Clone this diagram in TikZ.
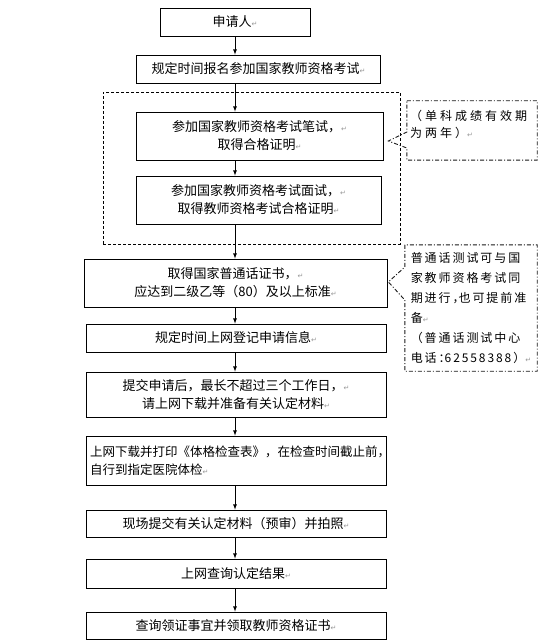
\documentclass[tikz,border=0pt]{standalone}
\definecolor{markgray}{RGB}{150,150,150}
\definecolor{notegray}{RGB}{25,25,25}
\usepackage{fontspec}
\setmainfont{Noto Sans CJK SC}
\newfontfamily\retfont{DejaVu Sans}
\newfontfamily\notefont[LetterSpace=25]{Noto Sans CJK SC}
\newfontfamily\tipfont[LetterSpace=16]{Noto Sans CJK SC}
\usepackage{tikz}
\usetikzlibrary{shapes,arrows,positioning,calc}

\newcommand{\ret}{{\retfont\fontsize{7}{7}\selectfont\textcolor{markgray}{↵}}}

\tikzset{
    stepbox/.style={rectangle, draw, line width=0.8pt, align=center, inner sep=2pt,
                    font=\fontsize{13}{18}\selectfont},
    groupbox/.style={rectangle, draw, line width=0.7pt, dash pattern=on 3pt off 2pt},
    notebox/.style={rectangle, align=left},
    noteline/.style={draw=notegray, line width=0.9pt,
                     dash pattern=on 4pt off 2pt on 1pt off 2pt},
    flowarrow/.style={-latex, line width=0.8pt}
}

\begin{document}
\begin{tikzpicture}[x=1pt, y=-1pt]
    \useasboundingbox (0,0) rectangle (551,644);
    \coordinate (axis) at (235,0);

    % exams group
    \node[groupbox, minimum width=297pt, minimum height=152pt] (exams) at (251.5,168) {};

    \node[stepbox, minimum width=150pt, minimum height=28pt] (apply) at (235,22) {申请人\ret};
    \node[stepbox, minimum width=244pt, minimum height=28pt] (signup) at (258.5,69)
        {规定时间报名参加国家教师资格考试\ret};
    \node[stepbox, minimum width=247pt, minimum height=48pt] (written) at (259.5,136)
        {参加国家教师资格考试笔试，\ret\\取得合格证明\ret};
    \node[stepbox, minimum width=245pt, minimum height=48pt] (interview) at (258.5,200)
        {参加国家教师资格考试面试，\ret\\取得教师资格考试合格证明\ret};
    \node[stepbox, minimum width=303pt, minimum height=48pt] (mandarin) at (235.5,283)
        {取得国家普通话证书，\ret\\应达到二级乙等（80）及以上标准\ret};
    \node[stepbox, minimum width=300pt, minimum height=28pt] (register) at (236,338)
        {规定时间上网登记申请信息\ret};
    \node[stepbox, minimum width=300pt, minimum height=45pt] (submit) at (236,394.5)
        {提交申请后，最长不超过三个工作日，\ret\\请上网下载并准备有关认定材料\ret};
    \node[stepbox, minimum width=300pt, minimum height=49pt, align=left, text width=292pt,
          inner xsep=4pt, font=\fontsize{12.5}{18}\selectfont] (medical) at (236,460.5)
        {上网下载并打印《体格检查表》，在检查时间截止前，\\自行到指定医院体检\ret};
    \node[stepbox, minimum width=300pt, minimum height=27pt] (onsite) at (236,523.5)
        {现场提交有关认定材料（预审）并拍照\ret};
    \node[stepbox, minimum width=300pt, minimum height=29pt] (result) at (236,573.5)
        {上网查询认定结果\ret};
    \node[stepbox, minimum width=300pt, minimum height=27pt] (collect) at (236,625.5)
        {查询领证事宜并领取教师资格证书\ret};

    \foreach \a/\b in {apply/signup, signup/written, written/interview, interview/mandarin,
                       mandarin/register, register/submit, submit/medical, medical/onsite,
                       onsite/result, result/collect}
        \draw[flowarrow] (axis |- \a.south) -- (axis |- \b.north);

    % notes
    \node[notebox, font=\notefont\fontsize{12}{16.5}\selectfont, minimum width=130pt,
          minimum height=59pt, inner sep=0pt] (note1) at (472,130.5)
        {\parbox[c][40pt][t]{124pt}{（单科成绩有效期\\为两年）\ret}};
    \coordinate (tip1) at ($(written.east)+(5,5)$);
    \draw[noteline] (note1.north west) -- (note1.north east) -- (note1.south east)
        -- (note1.south west) -- ($(note1.west)+(0,17.5)$) -- (tip1)
        -- ($(note1.west)+(0,1.5)$) -- cycle;

    \node[notebox, font=\tipfont\fontsize{12}{20}\selectfont, minimum width=132pt,
          minimum height=126pt, inner sep=0pt] (note2) at (471,308)
        {普通话测试可与国\\家教师资格考试同\\期进行，\kern-6pt 也可提前准\\备\ret\\（普通话测试中心\\电话：\kern-6pt 62558388）\ret};
    \coordinate (tip2) at ($(mandarin.east)+(1,-1)$);
    \draw[noteline] (note2.north west) -- ($(note2.west)+(0,-41)$) -- (tip2)
        -- ($(note2.west)+(0,-8)$) -- (note2.south west) -- (note2.south east)
        -- (note2.north east) -- cycle;
\end{tikzpicture}
\end{document}
